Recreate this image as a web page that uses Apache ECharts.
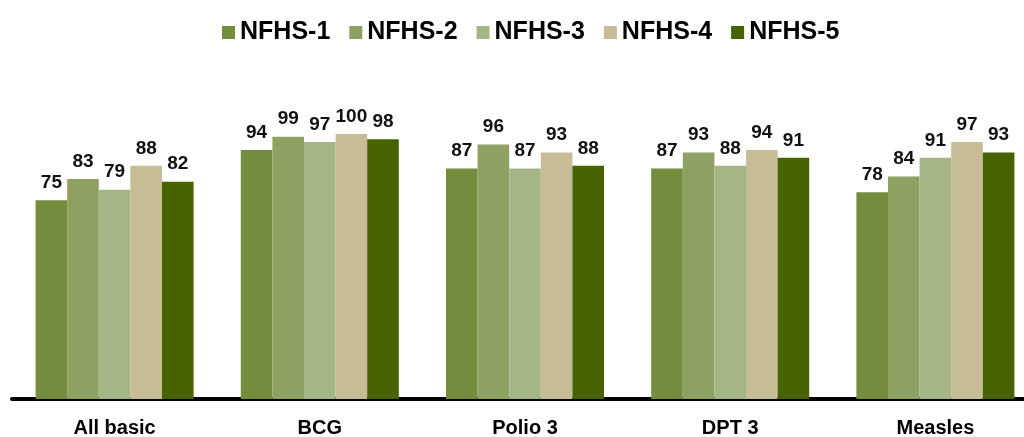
<!DOCTYPE html>
<html>
<head>
<meta charset="utf-8">
<script src="https://cdn.jsdelivr.net/npm/echarts@6/dist/echarts.min.js"></script>
<style>html,body{margin:0;padding:0;background:#fff}#c{width:1024px;height:437px}</style>
</head>
<body>
<div id="c"></div>
<script>
const categories = ['All basic', 'BCG', 'Polio 3', 'DPT 3', 'Measles'];
const seriesNames = ['NFHS-1', 'NFHS-2', 'NFHS-3', 'NFHS-4', 'NFHS-5'];
const nfhs1 = [75, 94, 87, 87, 78];
const nfhs2 = [83, 99, 96, 93, 84];
const nfhs3 = [79, 97, 87, 88, 91];
const nfhs4 = [88, 100, 93, 94, 97];
const nfhs5 = [82, 98, 88, 91, 93];
const seriesData = [nfhs1, nfhs2, nfhs3, nfhs4, nfhs5];
const colors = ['#738c3e', '#8ea062', '#a5b586', '#c6bd97', '#466300'];

const chart = echarts.init(document.getElementById('c'));
chart.setOption({
  animation: false,
  color: colors,
  legend: {
    top: 20,
    left: 222,
    padding: 0,
    itemWidth: 13,
    itemHeight: 13,
    itemGap: 19,
    icon: 'rect',
    textStyle: { fontFamily: 'Liberation Sans, Arial, sans-serif', fontWeight: 'bold', fontSize: 25, color: '#000' },
    data: seriesNames
  },
  grid: { left: 12, width: 1026, top: 134, bottom: 38, outerBoundsMode: 'none', containLabel: false },
  xAxis: {
    type: 'category',
    data: categories,
    axisLine: { lineStyle: { color: '#000', width: 4 } },
    axisTick: { show: false },
    axisLabel: { margin: 19, fontFamily: 'Liberation Sans, Arial, sans-serif', fontWeight: 'bold', fontSize: 20, color: '#000' }
  },
  yAxis: {
    type: 'value', min: 0, max: 100, show: false,
    splitLine: { show: false }
  },
  series: seriesNames.map((n, i) => ({
    name: n,
    type: 'bar',
    data: seriesData[i],
    barGap: '0%',
    barCategoryGap: '23%',
    label: {
      show: true, position: 'top', distance: 8,
      fontFamily: 'Liberation Sans, Arial, sans-serif', fontWeight: 'bold', fontSize: 19, color: '#111'
    }
  }))
});
</script>
</body>
</html>
